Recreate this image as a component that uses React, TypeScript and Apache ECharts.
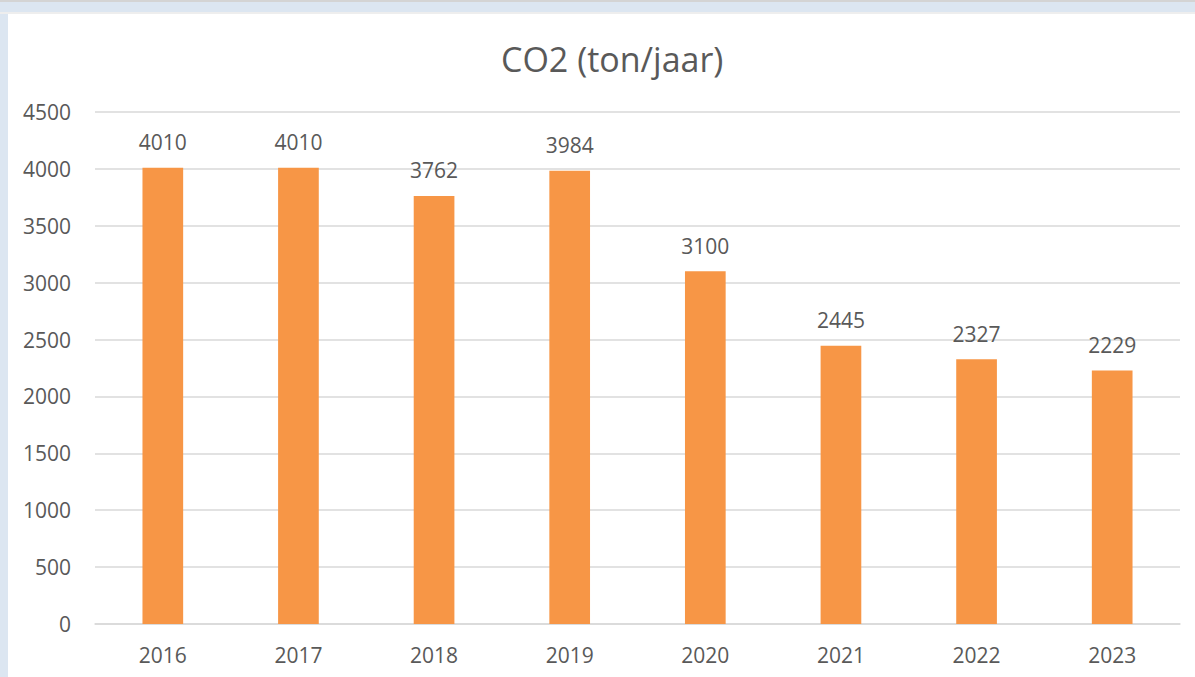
import React, { useEffect, useRef } from "react";
import * as echarts from "echarts";

const categories = ["2016", "2017", "2018", "2019", "2020", "2021", "2022", "2023"];
const co2Values = [4010, 4010, 3762, 3984, 3100, 2445, 2327, 2229];
const titleText = "CO2 (ton/jaar)";

const FONT = "'Open Sans', 'Liberation Sans', sans-serif";
const TEXT = "#595959";

export default function App() {
  const ref = useRef<HTMLDivElement>(null);
  useEffect(() => {
    if (!ref.current) return;
    const chart = echarts.init(ref.current, undefined, { renderer: "svg" });
    chart.setOption({
      animation: false,
      backgroundColor: "transparent",
      title: {
        text: titleText,
        left: 496,
        top: 37,
        textStyle: { fontFamily: FONT, fontSize: 34, fontWeight: "normal", color: TEXT },
      },
      grid: { left: 95, right: 15, top: 112, bottom: 53 },
      xAxis: {
        type: "category",
        data: categories,
        axisTick: { show: false },
        axisLine: { lineStyle: { color: "#d9d9d9", width: 1.5 } },
        axisLabel: { fontFamily: FONT, fontSize: 21, color: TEXT, margin: 20 },
      },
      yAxis: {
        type: "value",
        min: 0,
        max: 4500,
        interval: 500,
        axisLine: { show: false },
        axisTick: { show: false },
        splitLine: { lineStyle: { color: "#d9d9d9", width: 1.5 } },
        axisLabel: {
          fontFamily: FONT,
          fontSize: 21,
          color: TEXT,
          margin: 24,
          formatter: (v: number) => String(v),
        },
      },
      series: [
        {
          type: "bar",
          data: co2Values,
          barWidth: "30%",
          itemStyle: { color: "#F79646" },
          label: {
            show: true,
            position: "top",
            distance: 15,
            fontFamily: FONT,
            fontSize: 21,
            color: TEXT,
          },
        },
      ],
    });
    return () => chart.dispose();
  }, []);
  return (
    <div style={{ position: "fixed", left: 0, top: 0, width: 1195, height: 677, background: "#dce6f1", overflow: "hidden" }}>
      <div style={{ position: "absolute", left: 0, top: 0, width: 1195, height: 2, background: "#d4d4d4" }} />
      <div style={{ position: "absolute", left: 0, top: 12, width: 1195, height: 2, background: "#eeeeee" }} />
      <div style={{ position: "absolute", left: 8, top: 14, width: 1187, height: 663, background: "#ffffff" }} />
      <div ref={ref} style={{ position: "absolute", left: 0, top: 0, width: 1195, height: 677 }} />
    </div>
  );
}
